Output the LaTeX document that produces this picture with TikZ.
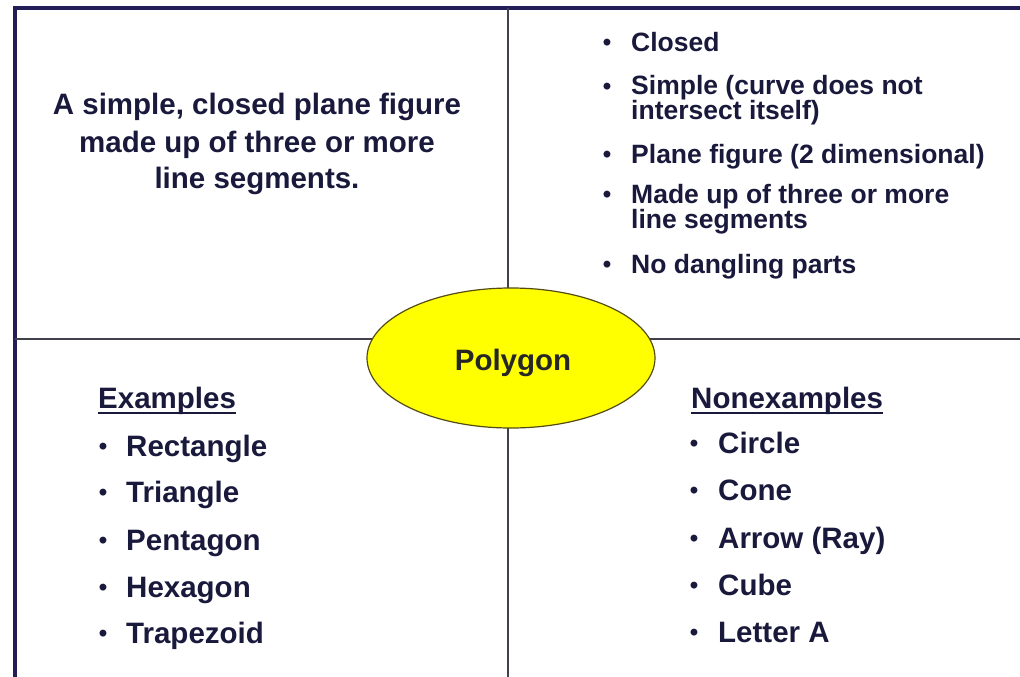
\documentclass[tikz,border=0pt]{standalone}
\usepackage{fontspec}
\setmainfont{Liberation Sans}
\usetikzlibrary{shapes.geometric,calc}
\definecolor{framenavy}{RGB}{35,30,85}
\definecolor{divgray}{RGB}{65,65,75}
\definecolor{textnavy}{RGB}{25,25,60}
\definecolor{polyyellow}{RGB}{255,255,0}
\definecolor{rimolive}{RGB}{85,75,20}
\tikzset{
	deftext/.style={inner sep=0pt, anchor=base, text=textnavy,
			font=\fontsize{29.5}{36}\selectfont\bfseries},
	itemtext/.style={inner sep=0pt, anchor=base west, text=textnavy,
			font=\fontsize{29.5}{36}\selectfont\bfseries},
	proptext/.style={itemtext, font=\fontsize{26.5}{30}\selectfont\bfseries},
	bulletmark/.style={inner sep=0pt, anchor=base, text=textnavy,
			font=\fontsize{24}{24}\selectfont\bfseries},
	divider/.style={divgray, line width=2pt}
}

\begin{document}
\begin{tikzpicture}[x=1pt,y=-1pt]
			\useasboundingbox (0,0) rectangle (1020,677);
			\clip (0,0) rectangle (1020,677);

			% Frame and dividers
			\coordinate (top) at (508,8);
			\coordinate (bottom) at (508,677);
			\coordinate (left) at (15,339);
			\coordinate (right) at (1020,339);
			\draw [framenavy, line width=3.5pt] (15,700) -- (15,8) -- (1040,8);
			\draw [divider] (top) -- (bottom);
			\draw [divider] (left) -- (right);

			% Definition
			\node (def1) [deftext] at (257,114) {A simple, closed plane figure};
			\node (def2) [deftext] at (257,152) {made up of three or more};
			\node (def3) [deftext] at (257,188) {line segments.};

			% Characteristics
			\foreach \y [count=\i] in {52,95,163,203,273}
				\node (pb\i) [bulletmark] at (607,\y-1) {•};
			\node (p1) [proptext] at (631,52) {Closed};
			\node (p2) [proptext] at (631,95) {Simple (curve does not};
			\node (p2b) [proptext] at (631,119) {intersect itself)};
			\node (p3) [proptext] at (631,163) {Plane figure (2 dimensional)};
			\node (p4) [proptext] at (631,203) {Made up of three or more};
			\node (p4b) [proptext] at (631,228) {line segments};
			\node (p5) [proptext] at (631,273) {No dangling parts};

			% Examples
			\node (exhead) [itemtext] at (98,408) {Examples};
			\draw [textnavy, line width=1.5pt] ($(exhead.base west)+(0,5)$) -- ($(exhead.base east)+(0,5)$);
			\foreach \t/\y [count=\i] in {Rectangle/456,Triangle/502,Pentagon/550,Hexagon/597,Trapezoid/643} {
				\node (eb\i) [bulletmark] at (103,\y-2) {•};
				\node (ex\i) [itemtext] at (126,\y) {\t};
			}

			% Nonexamples
			\node (nohead) [itemtext] at (691,408) {Nonexamples};
			\draw [textnavy, line width=1.5pt] ($(nohead.base west)+(0,5)$) -- ($(nohead.base east)+(0,5)$);
			\foreach \t/\y [count=\i] in {Circle/453,Cone/500,Arrow (Ray)/548,Cube/595,Letter A/642} {
				\node (nb\i) [bulletmark] at (694,\y-2) {•};
				\node (no\i) [itemtext] at (718,\y) {\t};
			}

			% Centre
			\node (poly) [ellipse, draw=rimolive, line width=1.2pt, fill=polyyellow,
				minimum width=288pt, minimum height=140pt, inner sep=0pt] at (511,358) {};
			\node (polytext) [deftext, text=black!85] at (513,370) {Polygon};
		\end{tikzpicture}
\end{document}
